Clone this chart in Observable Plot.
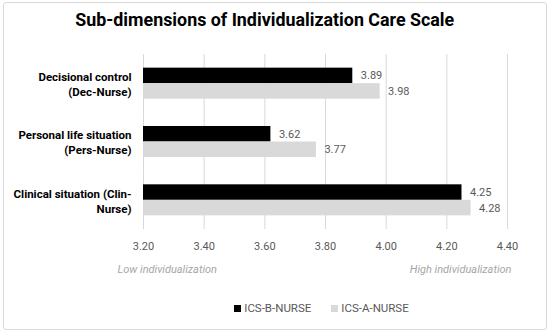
<!DOCTYPE html>
<html>
<head>
<meta charset="utf-8">
<script src="https://cdn.jsdelivr.net/npm/d3@7"></script>
<script src="https://cdn.jsdelivr.net/npm/@observablehq/plot@0.6"></script>
<style>
  body { margin: 0; background: #fff; }
  #wrap { position: relative; width: 550px; height: 333px; overflow: hidden; font-family: Roboto, sans-serif; }
  #frame { position: absolute; left: 3px; top: 2px; width: 544px; height: 328px; border: 1px solid #d9d9d9; border-radius: 3px; box-sizing: border-box; }
  #title { position: absolute; left: 0; top: 8px; width: 529px; text-align: center; white-space: nowrap; }
  #title span { display: inline-block; font-family: Roboto, sans-serif; font-weight: bold; font-size: 19px; color: #000; transform-origin: 50% 50%; }
  #chart { position: absolute; left: 0; top: 0; }
  #legend { position: absolute; left: 0; top: 301px; width: 643px; display: flex; justify-content: center; gap: 20px; font-size: 11.5px; color: #595959; }
  #legend .item { display: flex; align-items: center; }
  #legend .sw { width: 7px; height: 7px; margin-right: 3px; }
</style>
</head>
<body>
<div id="wrap">
  <div id="frame"></div>
  <div id="chart"></div>
  <div id="title"><span></span></div>
  <div id="legend"></div>
</div>
<script>
const titleText = "Sub-dimensions of Individualization Care Scale";
const categories = ["Decisional control (Dec-Nurse)", "Personal life situation (Pers-Nurse)", "Clinical situation (Clin-Nurse)"];
const categoryLabels = ["Decisional control\n(Dec-Nurse)", "Personal life situation\n(Pers-Nurse)", "Clinical situation (Clin-\nNurse)"];
const series = ["ICS-B-NURSE", "ICS-A-NURSE"];
const valuesB = [3.89, 3.62, 4.25];
const valuesA = [3.98, 3.77, 4.28];
const xTicks = [3.2, 3.4, 3.6, 3.8, 4.0, 4.2, 4.4];
const annotations = ["Low individualization", "High individualization"];
const colors = ["#000000", "#d9d9d9"];

const data = categories.flatMap((c, i) => [
  {cat: c, series: series[0], value: valuesB[i]},
  {cat: c, series: series[1], value: valuesA[i]}
]);

const plot = Plot.plot({
  width: 550, height: 333,
  marginLeft: 143, marginRight: 43, marginTop: 54, marginBottom: 104,
  style: {fontFamily: "Roboto, sans-serif", background: "transparent"},
  x: {domain: [xTicks[0], xTicks[xTicks.length - 1]]},
  y: {domain: series, axis: null, paddingInner: 0, paddingOuter: 0.88, round: false},
  fy: {domain: categories, padding: 0, round: false},
  color: {domain: series, range: colors},
  marks: [
    Plot.gridX(xTicks, {stroke: "#d9d9d9", strokeOpacity: 1}),
    Plot.barX(data, {fy: "cat", y: "series", x1: xTicks[0], x2: "value", fill: "series"}),
    Plot.text(data, {fy: "cat", y: "series", x: "value", text: d => d.value.toFixed(2), dx: 8, textAnchor: "start", fill: "#595959", fontSize: 11}),
    Plot.axisX(xTicks, {tickSize: 0, tickPadding: 13, tickFormat: d => d.toFixed(2), fill: "#595959", fontSize: 11, label: null}),
    Plot.axisFy({anchor: "left", tickSize: 0, tickPadding: 12, tickFormat: d => categoryLabels[categories.indexOf(d)], fontWeight: "bold", fontSize: 11.5, fill: "#000", lineHeight: 1.3, label: null}),
    Plot.text([annotations[0]], {fy: [categories[2]], frameAnchor: "bottom-left", dx: -26, dy: 43, textAnchor: "start", fontStyle: "italic", fill: "#a6a6a6", fontSize: 11}),
    Plot.text([annotations[1]], {fy: [categories[2]], frameAnchor: "bottom-right", dx: 4, dy: 43, textAnchor: "end", fontStyle: "italic", fill: "#a6a6a6", fontSize: 11})
  ]
});
document.getElementById("chart").appendChild(plot);

const titleSpan = document.querySelector("#title span");
titleSpan.textContent = titleText;
const w = titleSpan.getBoundingClientRect().width;
if (w > 0) titleSpan.style.transform = `scaleX(${379 / w})`;

const legend = document.getElementById("legend");
series.forEach((s, i) => {
  const item = document.createElement("div");
  item.className = "item";
  const sw = document.createElement("span");
  sw.className = "sw";
  sw.style.background = colors[i];
  const t = document.createElement("span");
  t.textContent = s;
  item.appendChild(sw); item.appendChild(t);
  legend.appendChild(item);
});
</script>
</body>
</html>
